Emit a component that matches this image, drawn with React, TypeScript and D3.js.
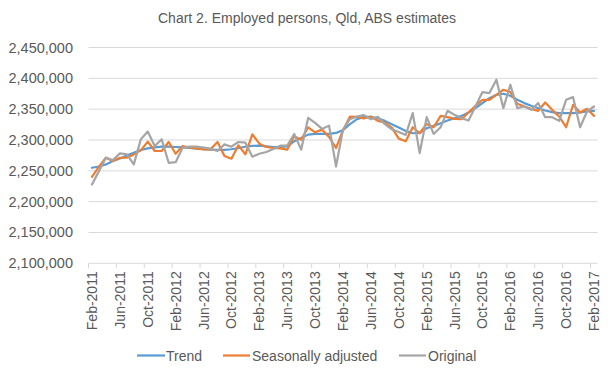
import React from "react";
import * as d3 from "d3";

const title = "Chart 2. Employed persons, Qld, ABS estimates";
const startMonth = new Date(2011, 1, 1); // Feb-2011
const monthCount = 73; // Feb-2011 .. Feb-2017
const yTicks = [2100000, 2150000, 2200000, 2250000, 2300000, 2350000, 2400000, 2450000];
const seriesNames = ["Trend", "Seasonally adjusted", "Original"];
const seriesColors = ["#5B9BD5", "#ED7D31", "#A5A5A5"];

const trend = [
  2254900, 2257000, 2260400, 2265800, 2270100, 2275000, 2279400, 2283700, 2286400, 2288000, 2289100, 2289100,
  2288600, 2288000, 2287000, 2286000, 2285000, 2284500, 2284000, 2284000, 2285000, 2287000, 2289000, 2290500,
  2290800, 2289700, 2288600, 2288600, 2289700, 2297800, 2303300, 2308700, 2309800, 2309800, 2309800, 2311400,
  2316000, 2325600, 2333700, 2337500, 2337500, 2335300, 2331000, 2325600, 2320100, 2314700, 2310900, 2311500,
  2319000, 2322900, 2327200, 2331500, 2335300, 2339100, 2344600, 2351600, 2359800, 2367900, 2373300, 2375000,
  2371700, 2365200, 2359800, 2355400, 2351600, 2347800, 2345100, 2343500, 2343500, 2343500, 2344600, 2346200,
  2347300,
];

const seasonallyAdjusted = [
  2240300, 2256600, 2271200, 2265800, 2271200, 2271200, 2276600, 2283200, 2297300, 2282100, 2282100, 2296700,
  2277700, 2290200, 2287500, 2286400, 2284800, 2284800, 2296700, 2273900, 2269600, 2291300, 2276600, 2309200,
  2294000, 2288600, 2287000, 2286400, 2284300, 2306000, 2300500, 2320600, 2312500, 2316800, 2304900, 2287000,
  2315500, 2338000, 2337500, 2334800, 2338000, 2331000, 2328300, 2320100, 2302200, 2297800, 2320700, 2310900,
  2326100, 2320700, 2339100, 2337000, 2334300, 2333700, 2344600, 2355400, 2365200, 2365200, 2373300, 2381500,
  2377700, 2358700, 2354300, 2350500, 2347300, 2360900, 2348900, 2338100, 2320700, 2357100, 2344600, 2350500,
  2339100,
];

const original = [
  2227800, 2249500, 2271200, 2267400, 2278300, 2276600, 2260400, 2301000, 2313600, 2290200, 2301000, 2263000,
  2264000, 2287500, 2289100, 2289100, 2287500, 2285900, 2282100, 2292900, 2289100, 2296700, 2295700, 2272900,
  2277700, 2280500, 2285300, 2290800, 2290800, 2309800, 2284300, 2335800, 2327700, 2317900, 2323300, 2257100,
  2317000, 2333700, 2338000, 2340200, 2333700, 2337500, 2325600, 2317400, 2313100, 2308200, 2343500, 2278800,
  2337000, 2309800, 2320700, 2347300, 2340800, 2335300, 2331500, 2354300, 2377700, 2376100, 2397800, 2351600,
  2389600, 2351600, 2354300, 2348900, 2359800, 2337000, 2337000, 2331000, 2365200, 2369500, 2320700, 2346200,
  2354300,
];

const seriesValues = [trend, seasonallyAdjusted, original];

const W = 613;
const H = 379;
const FONT = "'Liberation Sans', Arial, sans-serif";
const TEXT = "#595959";
const GRID = "#D9D9D9";

export default function App() {
  const months = d3.timeMonth.range(startMonth, d3.timeMonth.offset(startMonth, monthCount));
  const fmtMonth = d3.timeFormat("%b-%Y");
  const idx = months.map((_, i) => i);

  const x = d3.scaleBand<number>().domain(idx).range([88.5, 597.5]).padding(0);
  const bw = x.bandwidth();
  const cx = (i: number) => (x(i) as number) + bw / 2;
  const y = d3.scaleLinear().domain([2100000, 2450000]).range([263.3, 47.5]);

  const fmtY = d3.format(",");
  const line = d3
    .line<number>()
    .x((_, i) => cx(i))
    .y((d) => y(d));

  const tickIdx = idx.filter((i) => i % 4 === 0);

  const legendItems = [
    { x1: 137, x2: 165, tx: 166 },
    { x1: 223, x2: 250, tx: 252 },
    { x1: 399, x2: 426, tx: 428 },
  ];

  return (
    <svg
      width={W}
      height={H}
      style={{ position: "fixed", left: 0, top: 0, background: "#fff" }}
      fontFamily={FONT}
    >
      <rect x={0} y={0} width={W} height={H} fill="#fff" />
      <text x={307} y={18} textAnchor="middle" dominantBaseline="central" fontSize={14} fill={TEXT}>
        {title}
      </text>

      {yTicks.map((t) => (
        <g key={t}>
          {t !== 2100000 && (
            <line x1={88.5} x2={597.5} y1={y(t)} y2={y(t)} stroke={GRID} strokeWidth={1} />
          )}
          <text
            x={73}
            y={y(t)}
            textAnchor="end"
            dominantBaseline="central"
            fontSize={14.5}
            fill={TEXT}
          >
            {fmtY(t)}
          </text>
        </g>
      ))}

      <line x1={88.5} x2={597.5} y1={y(2100000)} y2={y(2100000)} stroke={GRID} strokeWidth={1} />
      {tickIdx.map((i) => (
        <line
          key={"t" + i}
          x1={x(i) as number}
          x2={x(i) as number}
          y1={y(2100000)}
          y2={y(2100000) + 5}
          stroke={GRID}
          strokeWidth={1}
        />
      ))}
      {tickIdx.map((i) => (
        <text
          key={"l" + i}
          transform={`translate(${cx(i)},${y(2100000) + 8}) rotate(-90)`}
          textAnchor="end"
          dominantBaseline="central"
          fontSize={14}
          fill={TEXT}
        >
          {fmtMonth(months[i])}
        </text>
      ))}

      {seriesValues.map((vals, s) => (
        <path
          key={seriesNames[s]}
          d={line(vals) || ""}
          fill="none"
          stroke={seriesColors[s]}
          strokeWidth={2.2}
          strokeLinejoin="round"
          strokeLinecap="round"
        />
      ))}

      {legendItems.map((it, s) => (
        <g key={"lg" + s}>
          <line x1={it.x1} x2={it.x2} y1={355.5} y2={355.5} stroke={seriesColors[s]} strokeWidth={2.2} />
          <text x={it.tx} y={355.5} dominantBaseline="central" fontSize={14} fill={TEXT}>
            {seriesNames[s]}
          </text>
        </g>
      ))}
    </svg>
  );
}
